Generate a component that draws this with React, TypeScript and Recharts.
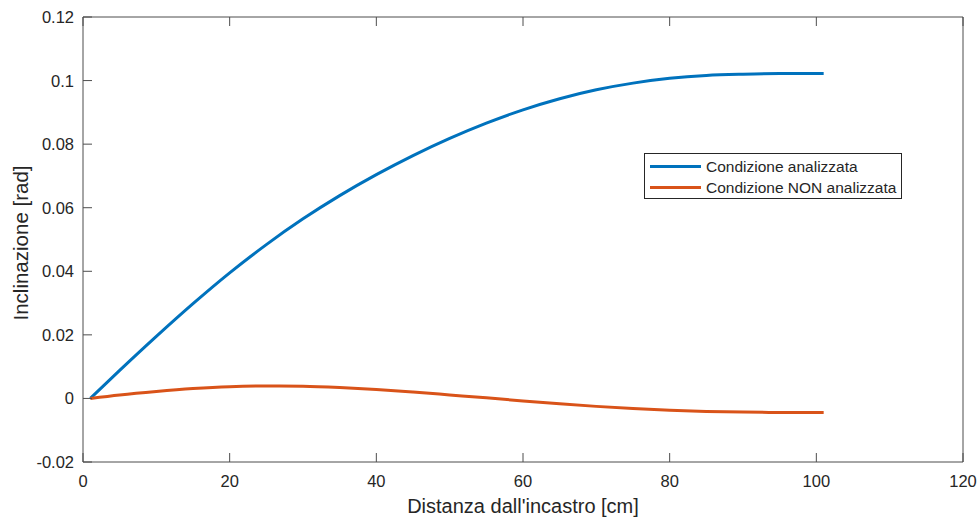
import React from "react";
import { LineChart, Line, XAxis, YAxis, Legend } from "recharts";

// valori
const distanza = [1, 5, 10, 15, 20, 25, 30, 35, 40, 45, 50, 55, 60, 65, 70, 75, 80, 85, 90, 95, 100, 101];
const condAnalizzata = [
  0, 0.0088, 0.0195, 0.0298, 0.0395, 0.0484, 0.0565, 0.0638, 0.0704, 0.0764, 0.0818, 0.0866, 0.0908,
  0.0943, 0.0971, 0.0992, 0.1007, 0.1016, 0.102, 0.1022, 0.1022, 0.1022,
];
const condNonAnalizzata = [
  0, 0.0011, 0.0022, 0.0031, 0.0037, 0.0039, 0.0038, 0.0034, 0.0028, 0.002, 0.0011, 0.0002, -0.0008,
  -0.0017, -0.0025, -0.0032, -0.0037, -0.0041, -0.0043, -0.0044, -0.0044, -0.0044,
];
const xTicks = [0, 20, 40, 60, 80, 100, 120];
const yTicks = [-0.02, 0, 0.02, 0.04, 0.06, 0.08, 0.1, 0.12];

const FONT = '"Liberation Sans", Arial, Helvetica, sans-serif';
const TEXT = "#262626";
const AXIS = "#4d4d4d";
const BLUE = "#0072BD";
const ORANGE = "#D95319";

const data = distanza.map((d, i) => ({
  x: d,
  a: condAnalizzata[i],
  n: condNonAnalizzata[i],
}));

const fmt = (v: number) => String(Number(v.toFixed(2)));

// tick verso l'interno, stile MATLAB
const BottomTick = (props: any) => {
  const { x, y, payload } = props;
  return (
    <g>
      <line x1={x} y1={y} x2={x} y2={y - 9} stroke={AXIS} />
      <text x={x} y={y + 19} textAnchor="middle" dominantBaseline="central" fontSize={16.5} fill={TEXT} fontFamily={FONT}>
        {fmt(payload.value)}
      </text>
    </g>
  );
};
const TopTick = (props: any) => {
  const { x, y } = props;
  return <line x1={x} y1={y} x2={x} y2={y + 9} stroke={AXIS} />;
};
const LeftTick = (props: any) => {
  const { x, y, payload } = props;
  return (
    <g>
      <line x1={x} y1={y} x2={x + 9} y2={y} stroke={AXIS} />
      <text x={x - 9} y={y} textAnchor="end" dominantBaseline="central" fontSize={16.5} fill={TEXT} fontFamily={FONT}>
        {fmt(payload.value)}
      </text>
    </g>
  );
};
const RightTick = (props: any) => {
  const { x, y } = props;
  return <line x1={x} y1={y} x2={x - 9} y2={y} stroke={AXIS} />;
};

const LegendBox = () => (
  <div
    style={{
      width: 258,
      height: 46,
      border: "1px solid #262626",
      background: "#fff",
      fontFamily: FONT,
      fontSize: 15.5,
      color: TEXT,
      boxSizing: "border-box",
      padding: "2px 0 0 5px",
    }}
  >
    {[
      { label: "Condizione analizzata", color: BLUE },
      { label: "Condizione NON analizzata", color: ORANGE },
    ].map((it) => (
      <div key={it.label} style={{ display: "flex", alignItems: "center", height: 21 }}>
        <div style={{ width: 51, height: 3, background: it.color, marginRight: 5 }} />
        <span>{it.label}</span>
      </div>
    ))}
  </div>
);

export default function App() {
  return (
    <div style={{ position: "absolute", left: 0, top: 0, width: 979, height: 518, background: "#fff" }}>
      <LineChart width={979} height={518} data={data} margin={{ top: 16, right: 15, bottom: 0, left: 0 }}>
        <XAxis
          xAxisId="b"
          dataKey="x"
          type="number"
          domain={[0, 120]}
          ticks={xTicks}
          interval={0}
          height={56}
          tickSize={0}
          tickMargin={0}
          tickLine={false}
          stroke={AXIS}
          tick={BottomTick}
          label={{
            content: (p: any) => (
              <text
                x={p.viewBox.x + p.viewBox.width / 2}
                y={p.viewBox.y + 51}
                textAnchor="middle"
                fontSize={20}
                fill={TEXT}
                fontFamily={FONT}
              >
                Distanza dall'incastro [cm]
              </text>
            ),
          }}
        />
        <XAxis
          xAxisId="t"
          orientation="top"
          dataKey="x"
          type="number"
          domain={[0, 120]}
          ticks={xTicks}
          interval={0}
          height={1}
          tickSize={0}
          tickMargin={0}
          tickLine={false}
          stroke={AXIS}
          tick={TopTick}
        />
        <YAxis
          yAxisId="l"
          type="number"
          domain={[-0.02, 0.12]}
          ticks={yTicks}
          interval={0}
          width={83}
          tickSize={0}
          tickMargin={0}
          tickLine={false}
          stroke={AXIS}
          tick={LeftTick}
          label={{
            content: () => {
              const cx = 28;
              const cy = 243;
              return (
                <text
                  x={cx}
                  y={cy}
                  transform={`rotate(-90 ${cx} ${cy})`}
                  textAnchor="middle"
                  fontSize={20.5}
                  fill={TEXT}
                  fontFamily={FONT}
                >
                  Inclinazione [rad]
                </text>
              );
            },
          }}
        />
        <YAxis
          yAxisId="r"
          orientation="right"
          type="number"
          domain={[-0.02, 0.12]}
          ticks={yTicks}
          interval={0}
          width={1}
          tickSize={0}
          tickMargin={0}
          tickLine={false}
          stroke={AXIS}
          tick={RightTick}
        />
        <Legend
          layout="vertical"
          align="center"
          verticalAlign="middle"
          content={() => <LegendBox />}
          wrapperStyle={{ left: 644, top: 153, width: 258, height: 46 }}
        />
        <Line
          xAxisId="b"
          yAxisId="l"
          type="monotone"
          dataKey="a"
          name="Condizione analizzata"
          stroke={BLUE}
          strokeWidth={3}
          dot={false}
          isAnimationActive={false}
        />
        <Line
          xAxisId="b"
          yAxisId="l"
          type="monotone"
          dataKey="n"
          name="Condizione NON analizzata"
          stroke={ORANGE}
          strokeWidth={3}
          dot={false}
          isAnimationActive={false}
        />
      </LineChart>
    </div>
  );
}
